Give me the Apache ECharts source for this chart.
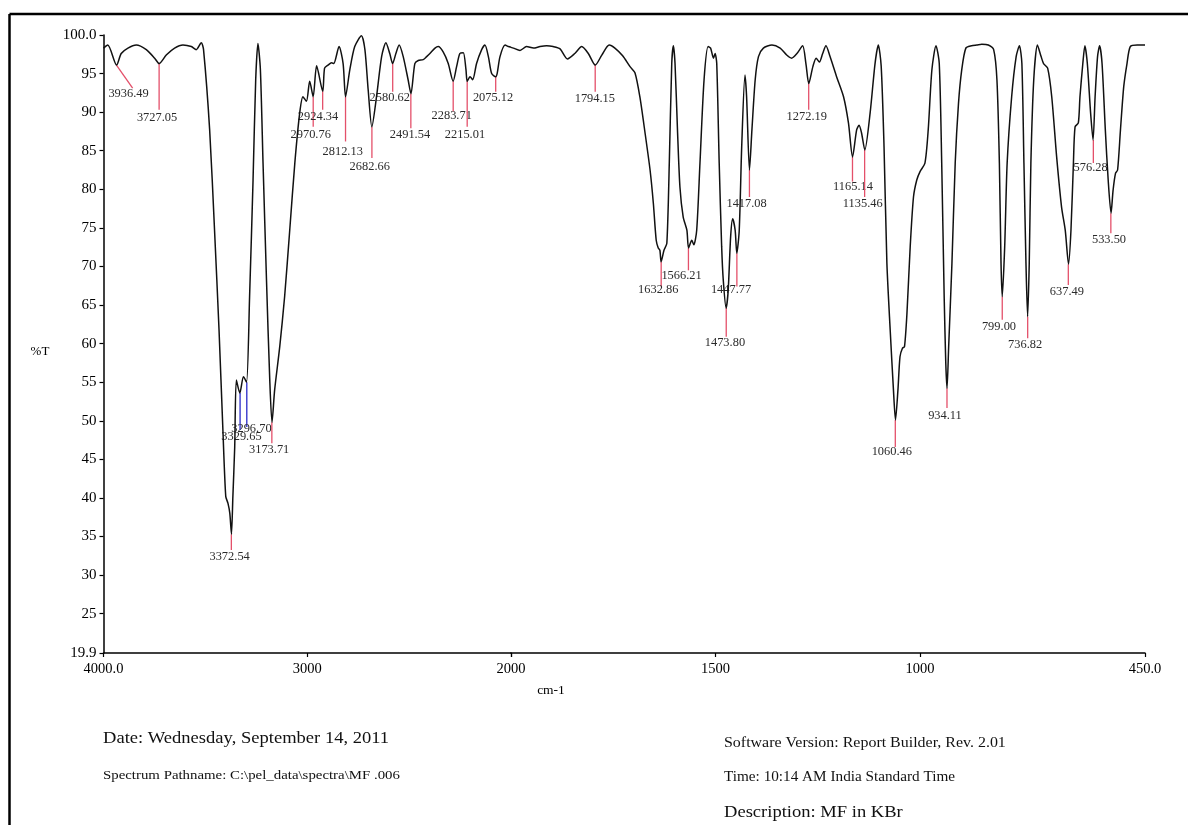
<!DOCTYPE html>
<html><head><meta charset="utf-8">
<script src="https://cdn.jsdelivr.net/npm/echarts@6/dist/echarts.min.js"></script>
<style>html,body{margin:0;padding:0;background:#fff}#c{width:1188px;height:825px}</style>
</head><body><div id="c"></div>
<script>
// ---- Spectrum, 4000-2000 cm-1 panel (compressed scale) ----
const wnHigh = [4000,3979,3936,3913,3880,3839,3790,3749,3727,3692,3651,3610,3569,3545,3520,3509,3479,3455,3433,3414,3400,3389,3380,3372,3365,3356,3348,3331,3313,3298,3283,3266,3253,3242,3230,3217,3200,3184,3173,3160,3135,3111,3086,3061,3037,3021,3004,2988,2971,2954,2924,2915,2898,2881,2870,2844,2824,2812,2791,2767,2734,2717,2701,2683,2660,2635,2614,2595,2581,2565,2549,2529,2505,2491,2472,2455,2431,2414,2398,2373,2357,2333,2308,2284,2267,2251,2234,2221,2215,2201,2188,2169,2144,2128,2111,2095,2075,2068,2054,2029,2013,2000];
const tHigh  = [98.3,98.7,96.1,97.6,98.3,98.7,98.1,97.0,96.3,97.4,98.3,98.7,98.5,98.1,99.0,98.1,87.7,74.7,61.8,48.8,40.2,39.3,38.0,35.3,40.2,46.6,55.3,53.6,55.7,55.0,66.1,81.2,94.2,98.9,95.5,83.4,68.2,55.3,49.8,54.0,59.6,66.1,74.7,83.4,89.9,92.0,91.4,94.0,92.0,96.0,92.7,95.7,96.1,96.4,96.3,98.5,96.3,92.0,95.5,98.5,99.9,98.1,92.9,88.1,92.0,97.2,99.0,97.6,96.3,97.6,98.7,97.2,94.2,92.4,96.3,96.7,96.8,97.2,97.6,98.3,98.5,97.8,96.3,94.0,95.9,97.6,97.7,95.5,94.0,94.6,94.2,96.3,98.1,98.7,97.2,95.0,94.6,95.0,97.2,98.7,98.5,98.4];

// ---- Spectrum, 2000-450 cm-1 panel ----
const wnLow = [2000,1994,1978,1962,1945,1929,1913,1897,1880,1862,1844,1827,1811,1794,1778,1760,1746,1727,1709,1697,1685,1672,1660,1652,1645,1640,1636,1633,1626,1619,1613,1607,1603,1599,1593,1587,1579,1570,1566,1558,1553,1546,1538,1528,1518,1512,1505,1501,1497,1491,1485,1481,1474,1469,1463,1458,1452,1448,1442,1436,1428,1424,1417,1411,1403,1395,1383,1362,1342,1326,1314,1301,1287,1279,1272,1262,1254,1246,1238,1230,1220,1204,1187,1175,1165,1155,1149,1143,1135,1122,1110,1102,1095,1088,1081,1073,1065,1060,1054,1049,1043,1038,1032,1024,1016,1008,1000,988,980,971,961,953,947,941,937,934,930,922,914,906,898,888,874,861,849,833,820,812,806,802,799,793,787,776,765,757,751,746,741,737,733,729,722,713,704,698,688,678,666,654,645,637,631,625,621,613,609,602,597,591,583,577,572,566,561,555,547,540,533,528,522,517,510,502,494,486,469,450];
const tLow  = [98.4,98.3,98.0,98.5,98.3,98.5,98.6,98.5,98.2,96.9,97.6,98.5,97.6,96.1,97.4,98.7,98.3,97.3,95.9,95.1,92.0,87.2,82.5,78.2,73.4,72.4,72.1,70.6,72.1,73.0,83.4,96.3,98.6,96.3,87.7,80.3,76.4,74.7,72.4,73.4,72.8,74.7,83.4,94.2,98.5,98.3,97.0,97.6,96.3,83.4,72.6,68.2,64.6,66.9,73.9,76.2,74.7,71.7,74.7,85.5,94.8,92.0,82.5,87.7,94.2,97.2,98.3,98.7,98.3,97.4,97.0,97.6,98.6,96.3,93.7,95.9,97.0,96.5,97.6,98.6,97.2,94.6,92.0,88.6,84.2,87.7,88.3,87.3,85.1,89.9,96.3,98.7,96.0,85.5,70.4,61.8,54.0,50.1,54.0,58.3,59.4,59.6,63.9,72.6,79.0,81.2,82.3,83.4,87.7,95.5,98.6,96.3,83.4,66.1,57.4,54.2,59.6,70.4,83.4,91.1,95.5,98.3,98.6,98.7,98.8,98.7,98.1,94.2,83.4,70.4,66.1,72.6,83.4,92.0,97.2,98.6,96.3,83.4,70.4,63.5,70.4,83.4,94.2,98.7,97.2,96.3,95.7,92.0,84.2,77.7,74.7,70.3,74.7,83.4,88.1,88.6,92.0,96.3,98.6,96.3,89.9,86.4,92.0,97.2,98.6,96.3,87.7,81.2,76.9,79.9,82.1,82.5,87.7,93.3,96.3,98.5,98.7,98.7];

// ---- Peak annotations ----
const peakLabels = ["3936.49","3727.05","3372.54","3329.65","3296.70","3173.71","2970.76","2924.34","2812.13","2682.66","2580.62","2491.54","2283.71","2215.01","2075.12","1794.15","1632.86","1566.21","1473.80","1447.77","1417.08","1272.19","1165.14","1135.46","1060.46","934.11","799.00","736.82","637.49","576.28","533.50"];
const peakT    = [96.1,96.3,35.3,53.6,55.0,49.8,92.0,92.7,92.0,88.1,96.3,92.4,94.0,94.0,94.6,96.1,70.6,72.4,64.6,71.7,82.5,93.7,84.2,85.1,50.1,54.2,66.1,63.5,70.3,86.4,76.9];
const leadWn   = [3857,3727.05,3372.54,3329.65,3296.70,3173.71,2970.76,2924.34,2812.13,2682.66,2580.62,2491.54,2283.71,2215.01,2075.12,1794.15,1632.86,1566.21,1473.80,1447.77,1417.08,1272.19,1165.14,1135.46,1060.46,934.11,799.00,736.82,637.49,576.28,533.50];
const leadT    = [93.1,90.3,33.25,48.8,49.2,47.1,88.1,90.3,86.2,84.05,92.65,87.9,90.1,88.1,92.65,92.65,67.4,69.5,60.9,67.4,79.0,90.3,81.0,79.0,46.6,51.65,63.1,60.7,67.6,83.4,74.3];
const labelWn  = [3877,3737,3381,3323,3274,3187,2983,2947,2826,2693,2595,2496,2291,2226,2088,1795,1640,1583,1477,1462,1424,1277,1164,1140,1069,939,807,743,641,583,538];
const labelT   = [92.35,89.3,32.3,47.9,48.9,46.2,87.0,89.4,84.9,82.9,91.8,87.0,89.5,87.0,91.8,91.7,66.9,68.8,60.1,66.9,78.1,89.4,80.3,78.1,46.0,50.6,62.2,59.8,66.7,82.7,73.4];

// ---- Axis ticks ----
const yTicks = [19.9,25,30,35,40,45,50,55,60,65,70,75,80,85,90,95,100];
const xTicksHigh = [4000,3000,2000];
const xTicksLow = [1500,1000,450];

const SERIF = '"Liberation Serif","Times New Roman",serif';
const BLUE = new Set(["3329.65","3296.70"]);

function zip(a,b){return a.map((v,i)=>[v,b[i]]);}
function peakRows(pred){
  const rows=[];
  peakLabels.forEach((s,i)=>{const w=Number(s); if(pred(w)) rows.push([w,peakT[i],leadWn[i],leadT[i],labelWn[i],labelT[i],i]);});
  return rows;
}
function renderPeak(params, api){
  const i = api.value(6);
  const p0 = api.coord([api.value(0), api.value(1)]);
  const p1 = api.coord([api.value(2), api.value(3)]);
  const pl = api.coord([api.value(4), api.value(5)]);
  const txt = peakLabels[i];
  const col = BLUE.has(txt) ? '#2a2ac8' : '#e4506a';
  return {type:'group', children:[
    {type:'line', shape:{x1:p0[0],y1:p0[1],x2:p1[0],y2:p1[1]}, style:{stroke:col,lineWidth:1.3}},
    {type:'text', x:pl[0], y:pl[1], scaleX:1.08, style:{text:txt, font:'11.5px '+SERIF, fill:'#2a2a2a', align:'center', verticalAlign:'middle'}}
  ]};
}
const axisCommon = {
  axisLine:{show:true,lineStyle:{color:'#000',width:1.5}},
  splitLine:{show:false},
};
const yFmt = v => v===100 ? '100.0' : (v===19.9 ? '19.9' : String(v));

const chart = echarts.init(document.getElementById('c'), null, {renderer:'canvas'});
chart.setOption({
  backgroundColor:'#fff',
  animation:false,
  grid:[
    {left:103.5, top:35, width:407.5, height:618},
    {left:511, top:35, width:634, height:618}
  ],
  xAxis:[
    Object.assign({}, axisCommon, {type:'value', gridIndex:0, min:2000, max:4000, inverse:true, interval:1000,
      axisLabel:{margin:9, color:'#000', fontFamily:SERIF, fontSize:14.5, customValues:xTicksHigh, formatter:v=>v===4000?'4000.0':String(v)},
      axisTick:{show:true,length:4,customValues:xTicksHigh,lineStyle:{color:'#000',width:1.2}}}),
    Object.assign({}, axisCommon, {type:'value', gridIndex:1, min:450, max:2000, inverse:true,
      axisLabel:{margin:9, color:'#000', fontFamily:SERIF, fontSize:14.5, customValues:xTicksLow, formatter:v=>v===450?'450.0':String(v)},
      axisTick:{show:true,length:4,customValues:[2000].concat(xTicksLow),lineStyle:{color:'#000',width:1.2}}})
  ],
  yAxis:[
    Object.assign({}, axisCommon, {type:'value', gridIndex:0, min:19.9, max:100,
      axisLabel:{margin:7, color:'#000', fontFamily:SERIF, fontSize:15, customValues:yTicks, formatter:yFmt},
      axisTick:{show:true,length:4,customValues:yTicks,lineStyle:{color:'#000',width:1.2}}}),
    {type:'value', gridIndex:1, min:19.9, max:100, show:false, splitLine:{show:false}}
  ],
  series:[
    {type:'line', xAxisIndex:0, yAxisIndex:0, data:zip(wnHigh,tHigh), symbol:'none', smooth:0.25, lineStyle:{color:'#111',width:1.5}, z:3},
    {type:'line', xAxisIndex:1, yAxisIndex:1, data:zip(wnLow,tLow), symbol:'none', smooth:0.25, lineStyle:{color:'#111',width:1.5}, z:3},
    {type:'custom', xAxisIndex:0, yAxisIndex:0, clip:false, renderItem:renderPeak, data:peakRows(w=>w>2000), z:2},
    {type:'custom', xAxisIndex:1, yAxisIndex:1, clip:false, renderItem:renderPeak, data:peakRows(w=>w<=2000), z:2}
  ],
  graphic:[
    {type:'line', shape:{x1:9.5,y1:14,x2:1188,y2:14}, style:{stroke:'#000',lineWidth:2.5}},
    {type:'line', shape:{x1:9.5,y1:14,x2:9.5,y2:825}, style:{stroke:'#000',lineWidth:2.5}},
    {type:'text', x:40, y:352, style:{text:'%T', font:'13px '+SERIF, fill:'#000', align:'center', verticalAlign:'middle'}},
    {type:'text', x:551, y:690, style:{text:'cm-1', font:'13.5px '+SERIF, fill:'#000', align:'center', verticalAlign:'middle'}},
    {type:'text', x:103, y:738, scaleX:1.06, style:{text:'Date: Wednesday, September 14, 2011', font:'17.5px '+SERIF, fill:'#111', verticalAlign:'middle'}},
    {type:'text', x:103, y:775, scaleX:1.1, style:{text:'Spectrum Pathname: C:\\pel_data\\spectra\\MF .006', font:'13.5px '+SERIF, fill:'#111', verticalAlign:'middle'}},
    {type:'text', x:724, y:743, scaleX:1.1, style:{text:'Software Version: Report Builder, Rev. 2.01', font:'14.5px '+SERIF, fill:'#111', verticalAlign:'middle'}},
    {type:'text', x:724, y:777, scaleX:1.05, style:{text:'Time: 10:14 AM India Standard Time', font:'14.5px '+SERIF, fill:'#111', verticalAlign:'middle'}},
    {type:'text', x:724, y:812, scaleX:1.06, style:{text:'Description: MF in KBr', font:'17.5px '+SERIF, fill:'#111', verticalAlign:'middle'}}
  ]
});
</script></body></html>
